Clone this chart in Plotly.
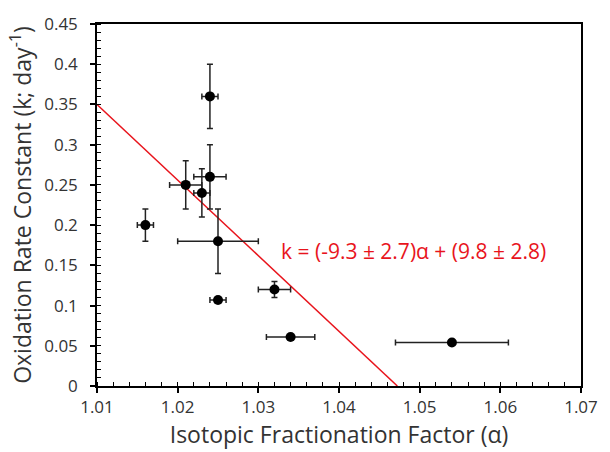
import plotly.graph_objects as go

# ── Data ───────────────────────────────────────────────────────────────────────
alpha = [1.016, 1.021, 1.023, 1.024, 1.024, 1.025, 1.025, 1.032, 1.034, 1.054]
k_rate = [0.200, 0.250, 0.240, 0.360, 0.260, 0.180, 0.107, 0.120, 0.061, 0.054]
alpha_err = [0.001, 0.002, 0.001, 0.001, 0.002, 0.005, 0.001, 0.002, 0.003, 0.007]
k_err = [0.020, 0.030, 0.030, 0.040, 0.040, 0.040, 0.002, 0.010, 0.000, 0.000]

# regression line as drawn
fit_slope = -9.4
fit_intercept = 9.844
fit_x_start = 1.01

x_ticks = [1.01, 1.02, 1.03, 1.04, 1.05, 1.06, 1.07]
y_ticks = [0, 0.05, 0.1, 0.15, 0.2, 0.25, 0.3, 0.35, 0.4, 0.45]

FONT = "Open Sans, Noto Sans, sans-serif"
TEXT_COLOR = "#333333"
RED = "#E8141C"

fit_x_end = -fit_intercept / fit_slope
fit_x = [fit_x_start, fit_x_end]
fit_y = [fit_slope * x + fit_intercept for x in fit_x]

fig = go.Figure()

fig.add_trace(go.Scatter(
    x=fit_x, y=fit_y, mode="lines",
    line=dict(color=RED, width=1.5),
    hoverinfo="skip", showlegend=False,
))

fig.add_trace(go.Scatter(
    x=alpha, y=k_rate, mode="markers",
    marker=dict(color="black", size=10),
    error_x=dict(type="data", array=alpha_err, color="#222222", thickness=1.5, width=3),
    error_y=dict(type="data", array=k_err, color="#222222", thickness=1.5, width=3),
    showlegend=False,
))

fig.add_annotation(
    x=1.0492, y=0.168, xref="x", yref="y",
    text="k = (-9.3 ± 2.7)α + (9.8 ± 2.8)",
    showarrow=False,
    font=dict(family=FONT, size=21, color=RED),
)

axis_common = dict(
    showgrid=False, zeroline=False,
    showline=True, linecolor="black", linewidth=1.5, mirror=True,
    ticks="outside", ticklen=5, tickwidth=1.5, tickcolor="black",
    tickfont=dict(family=FONT, size=17, color=TEXT_COLOR),
)

fig.update_xaxes(
    **axis_common,
    range=[1.01, 1.07], tickvals=x_ticks, tickformat=".2f",
    minor=dict(dtick=0.002, ticks="inside", ticklen=4, tickwidth=1, tickcolor="black"),
    title=dict(text="Isotopic Fractionation Factor (α)", font=dict(family=FONT, size=23, color=TEXT_COLOR), standoff=2),
)
fig.update_yaxes(
    **axis_common,
    range=[0, 0.45], tickvals=y_ticks,
    ticktext=[f"{v:g}" for v in y_ticks],
    ticklabelstandoff=9,
    minor=dict(dtick=0.01, ticks="inside", ticklen=4, tickwidth=1, tickcolor="black"),
    title=dict(text="Oxidation Rate Constant (k; day<sup>-1</sup>)", font=dict(family=FONT, size=23, color=TEXT_COLOR), standoff=6),
)

fig.update_layout(
    width=610, height=452,
    paper_bgcolor="white", plot_bgcolor="white",
    margin=dict(l=97, r=17, t=22, b=66),
)

fig.write_html(
    "out.html",
    config={"displayModeBar": False},
    post_script="document.body.style.margin='0';",
)
